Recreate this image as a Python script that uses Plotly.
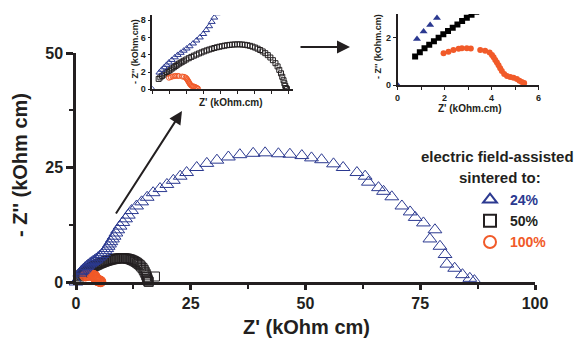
import plotly.graph_objects as go

# ---------------- data (kOhm cm) ----------------
z_re_24 = [0.0, 0.83, 1.11, 1.39, 1.68, 1.96, 2.3, 2.65, 3.0, 3.35, 3.7, 4.05, 4.4, 4.8, 5.2,
           5.6, 6.0, 6.35, 6.7, 7.0, 7.3, 7.6, 7.95, 8.3, 8.7, 9.1, 9.6, 10.2, 10.8, 11.4, 12.1,
           13.2, 14.3, 15.5, 16.8, 18.3, 19.8, 21.2, 22.7, 24.1, 26.3, 28.5, 30.7, 33.2, 35.7,
           38.6, 41.2, 44.1, 46.6, 49.2, 51.3, 53.5, 56.1, 58.2, 61.2, 63.0, 63.7, 65.9, 67.0,
           68.8, 71.0, 72.8, 73.9, 75.7, 78.2, 77.1, 79.3, 80.4, 80.8, 82.5, 84.2, 85.8, 86.8]
z_im_24 = [0.0, 1.94, 2.26, 2.54, 2.83, 3.1, 3.4, 3.7, 3.98, 4.22, 4.47, 4.72, 4.98, 5.3, 5.65,
           6.0, 6.4, 6.85, 7.3, 7.8, 8.3, 8.8, 9.4, 10.0, 10.7, 11.4, 12.2, 13.0, 13.8, 14.6, 15.6,
           16.6, 17.5, 18.5, 19.5, 20.4, 21.3, 22.2, 23.1, 23.9, 25.0, 25.9, 26.6, 27.3, 27.8,
           28.1, 28.2, 28.0, 27.9, 27.6, 27.1, 26.7, 25.8, 25.0, 23.9, 23.1, 21.8, 20.6, 19.8,
           18.6, 16.6, 15.3, 14.1, 12.9, 11.4, 9.4, 7.8, 6.0, 3.9, 3.0, 1.6, 0.8, 0.3]

z_re_50 = [0.75, 0.95, 1.15, 1.35, 1.55, 1.75, 1.95, 2.15, 2.35, 2.55, 2.75, 2.95, 3.15, 3.35,
           3.55, 3.75, 4.0, 4.3, 4.6, 4.9, 5.2, 5.5, 5.8, 6.1, 6.4, 6.7, 7.0, 7.3, 7.6, 7.9, 8.2,
           8.5, 8.8, 9.1, 9.4, 9.7, 10.0, 10.3, 10.6, 10.9, 11.2, 11.5, 11.8, 12.1, 12.4, 12.7,
           13.0, 13.3, 13.6, 13.9, 14.2, 14.5, 14.75, 14.95, 15.15, 15.3, 15.45, 15.55, 15.65,
           15.75, 15.85, 17.2]
z_im_50 = [1.2, 1.38, 1.55, 1.7, 1.85, 2.0, 2.14, 2.28, 2.42, 2.56, 2.7, 2.84, 2.97, 3.09,
           3.2, 3.31, 3.45, 3.6, 3.75, 3.89, 4.02, 4.15, 4.27, 4.39, 4.5, 4.6, 4.69, 4.78, 4.86,
           4.93, 4.99, 5.05, 5.1, 5.14, 5.17, 5.19, 5.2, 5.2, 5.18, 5.15, 5.1, 5.03, 4.94, 4.83,
           4.7, 4.55, 4.38, 4.18, 3.95, 3.68, 3.37, 3.02, 2.65, 2.25, 1.85, 1.45, 1.05, 0.7, 0.4,
           0.15, 0.03, 1.2]

z_re_100 = [1.96, 2.17, 2.38, 2.6, 2.74, 2.95, 3.12, 3.52, 3.73, 3.92, 4.02, 4.09, 4.16, 4.23,
            4.30, 4.37, 4.44, 4.54, 4.66, 4.80, 4.94, 5.08, 5.19, 5.29, 5.39]
z_im_100 = [1.34, 1.41, 1.48, 1.53, 1.55, 1.55, 1.54, 1.48, 1.45, 1.37, 1.27, 1.17, 1.06, 0.95,
            0.83, 0.71, 0.59, 0.47, 0.38, 0.34, 0.31, 0.25, 0.18, 0.13, 0.08]

series_names = ["24%", "50%", "100%"]
legend_title = ["electric field-assisted", "sintered to:"]

# ---------------- styling ----------------
BLUE = "#2b3990"
RED = "#f15a29"
INK = "#231f20"
FONT = "Liberation Sans"
W, H = 578, 344


def px(x):
    return x / W


def py(y):
    return 1 - y / H


fig = go.Figure()

# main plot: black, red, blue (blue on top)
fig.add_trace(go.Scatter(x=z_re_50, y=z_im_50, mode="markers", name=f"<span style='color:{INK}'>{series_names[1]}</span>",
                         marker=dict(symbol="square-open", size=9, color=INK, line=dict(width=1)),
                         cliponaxis=False, legendrank=2, xaxis="x", yaxis="y"))
fig.add_trace(go.Scatter(x=z_re_100, y=z_im_100, mode="markers", name=f"<span style='color:{RED}'>{series_names[2]}</span>",
                         marker=dict(symbol="circle-open", size=10, color=RED, line=dict(width=1.2)),
                         cliponaxis=False, legendrank=3, xaxis="x", yaxis="y"))
fig.add_trace(go.Scatter(x=z_re_24, y=z_im_24, mode="markers", name=f"<span style='color:{BLUE}'>{series_names[0]}</span>",
                         marker=dict(symbol="triangle-up-open", size=12, color=BLUE, line=dict(width=1)),
                         cliponaxis=False, legendrank=1, xaxis="x", yaxis="y"))

# inset 1 (open markers)
fig.add_trace(go.Scatter(x=z_re_50, y=z_im_50, mode="markers", showlegend=False,
                         marker=dict(symbol="square-open", size=5, color=INK, line=dict(width=1)),
                         xaxis="x2", yaxis="y2"))
fig.add_trace(go.Scatter(x=z_re_100, y=z_im_100, mode="markers", showlegend=False,
                         marker=dict(symbol="circle-open", size=5, color=RED, line=dict(width=1)),
                         xaxis="x2", yaxis="y2"))
fig.add_trace(go.Scatter(x=z_re_24, y=z_im_24, mode="markers", showlegend=False,
                         marker=dict(symbol="triangle-up-open", size=6, color=BLUE, line=dict(width=1)),
                         xaxis="x2", yaxis="y2"))

# inset 2 (filled markers)
fig.add_trace(go.Scatter(x=z_re_50, y=z_im_50, mode="markers", showlegend=False,
                         marker=dict(symbol="square", size=6, color="black"),
                         xaxis="x3", yaxis="y3"))
fig.add_trace(go.Scatter(x=z_re_100, y=z_im_100, mode="markers", showlegend=False,
                         marker=dict(symbol="circle", size=6, color=RED),
                         xaxis="x3", yaxis="y3"))
fig.add_trace(go.Scatter(x=z_re_24, y=z_im_24, mode="markers", showlegend=False,
                         marker=dict(symbol="triangle-up", size=7, color=BLUE),
                         xaxis="x3", yaxis="y3"))

tickfont_main = dict(family=FONT, size=16, color=INK, weight="bold")
tickfont_small = dict(family=FONT, size=9, color=INK, weight="bold")

axis_common = dict(showgrid=False, zeroline=False, showline=True, linecolor=INK, ticks="outside",
                   tickcolor=INK, automargin=False)

fig.update_layout(
    template="none",
    width=W, height=H,
    margin=dict(l=0, r=0, t=0, b=0, pad=0, autoexpand=False),
    paper_bgcolor="white", plot_bgcolor="rgba(0,0,0,0)",
    showlegend=True,
    legend=dict(x=px(470), y=py(184), xanchor="left", yanchor="top", bgcolor="rgba(0,0,0,0)",
                font=dict(family=FONT, size=14, weight="bold"), tracegroupgap=0, itemsizing="constant"),
    xaxis=dict(domain=[px(76), px(535)], range=[0, 100], tickvals=[0, 25, 50, 75, 100],
               linewidth=2.5, ticklen=5, tickwidth=2.5, tickfont=tickfont_main,
               minor=dict(dtick=12.5, ticks="outside", ticklen=4, tickwidth=2, tickcolor=INK),
               anchor="y", **axis_common),
    yaxis=dict(domain=[py(282), py(53)], range=[0, 50], tickvals=[0, 25, 50],
               linewidth=2.5, ticklen=7, tickwidth=2.5, tickfont=tickfont_main,
               minor=dict(dtick=12.5, ticks="outside", ticklen=4, tickwidth=2, tickcolor=INK),
               anchor="x", **axis_common),
    xaxis2=dict(domain=[px(152.3), px(293.3)], range=[0, 16.6], dtick=2, showticklabels=False,
                linewidth=1.5, ticklen=3, tickwidth=1, anchor="y2", **axis_common),
    yaxis2=dict(domain=[py(89.3), py(15)], range=[0, 8.6], tickvals=[0, 2, 4, 6, 8],
                linewidth=1.5, ticklen=3, tickwidth=1, tickfont=tickfont_small, anchor="x2",
                **axis_common),
    xaxis3=dict(domain=[px(397.5), px(538.5)], range=[0, 6], tickvals=[0, 2, 4, 6],
                minor=dict(dtick=1, ticks="outside", ticklen=3, tickwidth=1, tickcolor=INK),
                linewidth=1.5, ticklen=3, tickwidth=1, tickfont=tickfont_small, anchor="y3",
                **axis_common),
    yaxis3=dict(domain=[py(85), py(14)], range=[0, 3], tickvals=[0, 2],
                linewidth=1.5, ticklen=3, tickwidth=1, tickfont=tickfont_small, anchor="x3",
                **axis_common),
)

ann = []


def label(text, x, y, size, angle=0, color=INK):
    ann.append(dict(text=text, x=px(x), y=py(y), xref="paper", yref="paper", showarrow=False,
                    xanchor="center", yanchor="middle", textangle=angle,
                    font=dict(family=FONT, size=size, color=color, weight="bold")))


label("Z' (kOhm cm)", 306, 327, 20)
label("- Z'' (kOhm cm)", 20, 165, 20, angle=-90)
label("Z' (kOhm.cm)", 231, 102, 10)
label("- Z'' (kOhm.cm)", 135, 52, 9, angle=-90)
label("Z' (kOhm.cm)", 470, 108, 10)
label("- Z'' (kOhm.cm)", 378, 47, 9, angle=-90)
label(legend_title[0], 497, 157, 15)
label(legend_title[1], 500, 177, 15)

# arrows
ann.append(dict(x=px(182), y=py(111), xref="paper", yref="paper", ax=-67, ay=104, text="",
                showarrow=True, arrowhead=2, arrowsize=1.3, arrowwidth=2, arrowcolor=INK))
ann.append(dict(x=px(350), y=py(47), xref="paper", yref="paper", ax=-51, ay=0, text="",
                showarrow=True, arrowhead=2, arrowsize=1.3, arrowwidth=2, arrowcolor=INK))

fig.update_layout(annotations=ann)

fig.write_html("out.html")
